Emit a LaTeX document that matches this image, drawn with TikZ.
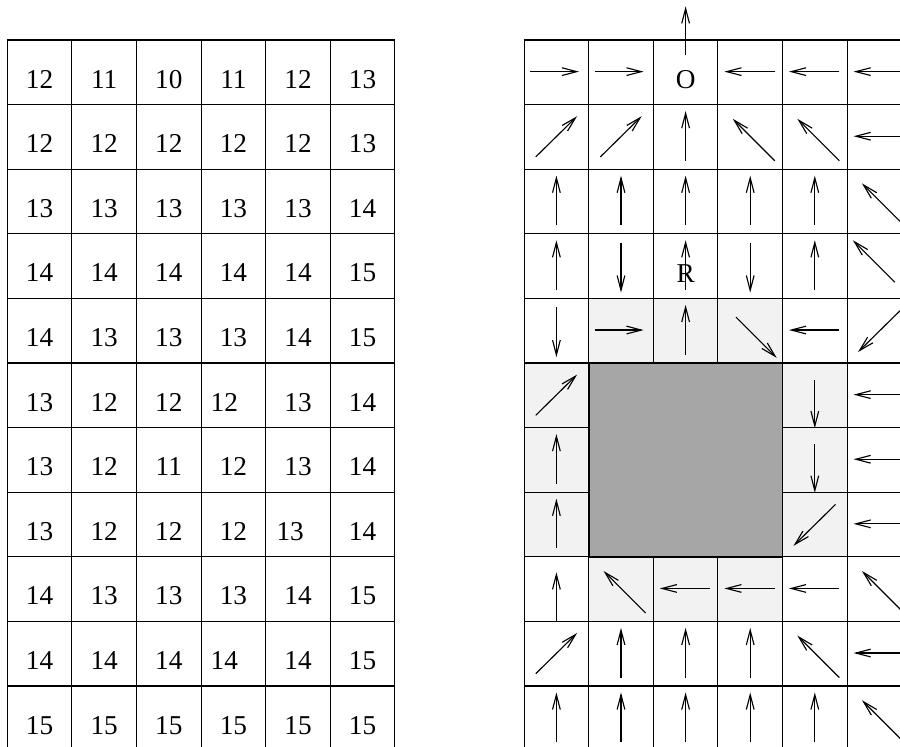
\documentclass[tikz,border=0pt]{standalone}
\usepackage{fontspec}
\setmainfont{Liberation Serif}
\usetikzlibrary{arrows.meta}
\definecolor{cellshade}{RGB}{242,242,242}
\definecolor{obstaclegray}{RGB}{166,166,166}

\begin{document}
\begin{tikzpicture}[
    gridline/.style={draw=black, line width=0.5pt},
    vecarrow/.style={-{Straight Barb[length=2.3mm,width=1.2mm]}, line width=0.5pt},
    celltext/.style={anchor=base, inner sep=0pt, font=\fontsize{12}{14}\selectfont}]
    \clip (-0.113,-10.944) rectangle (13.819,0.619);

    % distance table
    \draw[gridline] (0,0) grid (6,-11);
    \foreach \row [count=\r from 0] in {{12,11,10,11,12,13},{12,12,12,12,12,13},
        {13,13,13,13,13,14},{14,14,14,14,14,15},{14,13,13,13,14,15},
        {13,12,12,{},13,14},{13,12,11,12,13,14},{13,12,12,12,{},14},
        {14,13,13,13,14,15},{14,14,14,{},14,15},{15,15,15,15,15,15}}
        \foreach \val [count=\c from 0] in \row
            \node[celltext] (d-\r-\c) at (\c+0.5,-\r-0.745) {\val};
    \node[celltext] (d-5-3) at (3.36,-5.745) {12};
    \node[celltext] (d-7-4) at (4.38,-7.745) {13};
    \node[celltext] (d-9-3) at (3.36,-9.745) {14};

    % policy grid
    \begin{scope}[xshift=8cm]
        \foreach \c/\r in {1/4,2/4,3/4,0/5,0/6,0/7,4/5,4/6,4/7,1/8,2/8,3/8}
            \fill[cellshade] (\c,-\r) rectangle ++(1,-1);
        \draw[gridline] (0,0) grid (6,-11);
        \draw[fill=obstaclegray, draw=black, line width=0.8pt] (1,-5) rectangle (4,-8);

        \node[celltext] (goal) at (2.5,-0.745) {O};
        \node[celltext] (robot) at (2.5,-3.76) {R};
        \draw[vecarrow] ([yshift=0.22cm]goal.north) -- ++(0,0.76);

        % right
        \foreach \c/\r in {0/0,1/0,1/4}
            \draw[vecarrow] (\c+0.09,-\r-0.49) -- ++(0.76,0);
        % left
        \foreach \c/\r in {3/0,4/0,5/0,5/1,4/4,5/5,5/6,5/7,2/8,3/8,4/8,5/9}
            \draw[vecarrow] (\c+0.88,-\r-0.49) -- ++(-0.78,0);
        % up
        \foreach \c/\r in {2/1,0/2,1/2,2/2,3/2,4/2,0/3,2/3,4/3,2/4,0/6,0/7,
                           1/9,2/9,3/9,0/10,1/10,2/10,3/10,4/10}
            \draw[vecarrow] (\c+0.5,-\r-0.87) -- ++(0,0.77);
        \draw[vecarrow] (0.5,-8.99) -- ++(0,0.75);
        % down
        \foreach \c/\r in {1/3,3/3,0/4}
            \draw[vecarrow] (\c+0.5,-\r-0.14) -- ++(0,-0.77);
        \foreach \c/\r in {4/5,4/6}
            \draw[vecarrow] (\c+0.5,-\r-0.26) -- ++(0,-0.75);
        % diagonals
        \foreach \c/\r in {0/1,1/1,0/5,0/9}
            \draw[vecarrow] (\c+0.18,-\r-0.81) -- ++(0.64,0.63);
        \foreach \c/\r in {3/1,4/1,5/2,1/8,5/8,4/9,5/10}
            \draw[vecarrow] (\c+0.88,-\r-0.87) -- ++(-0.65,0.65);
        \draw[vecarrow] (5.74,-3.75) -- ++(-0.65,0.65);
        \draw[vecarrow] (3.28,-4.29) -- ++(0.63,-0.63);
        \foreach \c/\r in {5/4,4/7}
            \draw[vecarrow] (\c+0.82,-\r-0.19) -- ++(-0.65,-0.64);
    \end{scope}
\end{tikzpicture}
\end{document}
